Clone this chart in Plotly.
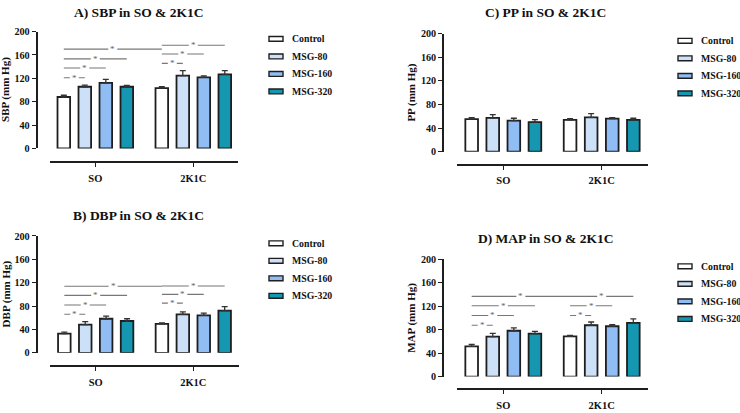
import plotly.graph_objects as go

# ---------------- data ----------------
groups = ["Control", "MSG-80", "MSG-160", "MSG-320"]
categories = ["SO", "2K1C"]
y_ticks = [0, 40, 80, 120, 160, 200]

# rows = groups, columns = categories (SO, 2K1C)
sbp_mean = [[88, 103], [105.5, 124.4], [112, 121.6], [105.5, 126.6]]
sbp_err = [[3, 2.5], [2.8, 8.6], [6, 2.6], [2.5, 6.4]]

dbp_mean = [[32.8, 49.4], [48.3, 65.6], [58.3, 63.9], [54.4, 72.2]]
dbp_err = [[2.7, 1.6], [5, 4.4], [4.5, 3.9], [3.9, 6.7]]

pp_mean = [[55, 53.8], [57.1, 58.2], [52.7, 56], [50, 53.8]]
pp_err = [[2.7, 2.2], [5.5, 6.1], [3.9, 1.7], [4.4, 2.8]]

map_mean = [[51.4, 68.5], [68, 87.3], [77.9, 85.6], [72.9, 91.2]]
map_err = [[3.3, 1.7], [5.5, 5.5], [5, 2.8], [3.9, 7.1]]

# significance brackets: (group_a, cat_a, group_b, cat_b, height)
sbp_sig = [(0, 0, 1, 0, 121), (0, 0, 2, 0, 137.7), (0, 0, 3, 0, 153.3), (0, 0, 0, 1, 170),
           (0, 1, 1, 1, 145.5), (0, 1, 2, 1, 161.7), (0, 1, 3, 1, 176.7)]
dbp_sig = [(0, 0, 1, 0, 66), (0, 0, 2, 0, 81.7), (0, 0, 3, 0, 98.3), (0, 0, 0, 1, 113.9),
           (0, 1, 1, 1, 85), (0, 1, 2, 1, 100), (0, 1, 3, 1, 114.4)]
pp_sig = []
map_sig = [(0, 0, 1, 0, 87.3), (0, 0, 2, 0, 103.9), (0, 0, 3, 0, 120.4), (0, 0, 0, 1, 136.5),
           (0, 1, 1, 1, 103.9), (0, 1, 2, 1, 120.4), (0, 1, 3, 1, 136.5)]

titles = ["A) SBP in SO & 2K1C", "B) DBP in SO & 2K1C", "C) PP in SO & 2K1C", "D) MAP in SO & 2K1C"]
ytitles = ["SBP (mm Hg)", "DBP (mm Hg)", "PP (mm Hg)", "MAP (mm Hg)"]

# ---------------- styles / layout geometry (pixels) ----------------
W, H = 740, 413
colors = ["#ffffff", "#cce0f8", "#8fbdf4", "#1597b2"]
FONT = "Liberation Serif"
INK = "#1e1e1e"
SIG = "#777777"
BARGAP = 0.143
BARGROUPGAP = 0.4

geom = [
    dict(yx=36.5, ytop=27.3, ybot=147.3, xay=161.3, xl=50, xr=238.3, t1=95.3, t2=193.3,
         tx=138, ty=8, ytx=6, lx=269),
    dict(yx=36.5, ytop=237.3, ybot=357.3, xay=371.3, xl=50, xr=239, t1=95.7, t2=193.3,
         tx=138, ty=216, ytx=6, lx=269),
    dict(yx=443, ytop=29.3, ybot=150.7, xay=164, xl=457.3, xr=647.7, t1=503.3, t2=601.7,
         tx=545, ty=7.5, ytx=412, lx=678),
    dict(yx=443, ytop=261, ybot=381.7, xay=395, xl=457.3, xr=647.7, t1=503.3, t2=601.7,
         tx=545.8, ty=240, ytx=412, lx=678),
]

panel_data = [
    (sbp_mean, sbp_err, sbp_sig),
    (dbp_mean, dbp_err, dbp_sig),
    (pp_mean, pp_err, pp_sig),
    (map_mean, map_err, map_sig),
]


def px(x):
    return x / W


def py(y):
    return 1 - y / H


fig = go.Figure()
shapes = []
annotations = []
layout_axes = {}

slot = (1 - BARGAP) / len(groups)

for i, (g, (means, errs, sigs)) in enumerate(zip(geom, panel_data)):
    n = "" if i == 0 else str(i + 1)
    xa, ya = "x" + n, "y" + n
    unit = g["t2"] - g["t1"]
    xrange = [(g["xl"] - g["t1"]) / unit, (g["xr"] - g["t1"]) / unit]

    for gi, grp in enumerate(groups):
        fig.add_trace(go.Bar(
            x=categories, y=means[gi], name=grp,
            marker=dict(color=colors[gi], line=dict(color=INK, width=1.8)),
            error_y=dict(type="data", array=errs[gi], arrayminus=[0] * len(categories),
                         symmetric=False, color="#333333", thickness=1.3, width=3),
            xaxis=xa, yaxis=ya, showlegend=False,
        ))

    layout_axes["xaxis" + n] = dict(
        domain=[px(g["xl"]), px(g["xr"])], anchor="free", position=py(g["xay"]),
        range=xrange, showline=True, linewidth=1.8, linecolor=INK,
        ticks="outside", ticklen=4, tickwidth=1.4, tickcolor=INK,
        showgrid=False, zeroline=False, fixedrange=True,
        tickfont=dict(family=FONT, size=10.5, color="#111111", weight="bold"),
        ticklabelstandoff=2,
    )
    layout_axes["yaxis" + n] = dict(
        domain=[py(g["ybot"]), py(g["ytop"])], anchor="free", position=px(g["yx"]),
        range=[0, 200], tickmode="array", tickvals=y_ticks,
        showline=True, linewidth=1.6, linecolor=INK,
        ticks="outside", ticklen=4, tickwidth=1.4, tickcolor=INK,
        showgrid=False, zeroline=False, fixedrange=True,
        tickfont=dict(family=FONT, size=10.2, color="#111111", weight="bold"),
    )

    # significance brackets
    gap = 4.5 / unit
    for (ga, ca, gb, cb, h) in sigs:
        xa0 = ca + (ga - (len(groups) - 1) / 2) * slot
        xb0 = cb + (gb - (len(groups) - 1) / 2) * slot
        mid = (xa0 + xb0) / 2
        for (s0, s1) in ((xa0, mid - gap), (mid + gap, xb0)):
            shapes.append(dict(type="line", xref=xa, yref=ya, x0=s0, x1=s1, y0=h, y1=h,
                               line=dict(color=SIG, width=1.1)))
        annotations.append(dict(xref=xa, yref=ya, x=mid, y=h, text="*", showarrow=False,
                                xanchor="center", yanchor="middle", yshift=0,
                                font=dict(family=FONT, size=9, color="#666666")))

    # panel title
    annotations.append(dict(xref="paper", yref="paper", x=px(g["tx"]), y=py(g["ty"]),
                            text=titles[i], showarrow=False, xanchor="center", yanchor="middle",
                            font=dict(family=FONT, size=13.5, color="#111111", weight="bold")))
    # y-axis title
    annotations.append(dict(xref="paper", yref="paper", x=px(g["ytx"]),
                            y=py((g["ytop"] + g["ybot"]) / 2), text=ytitles[i], textangle=-90,
                            showarrow=False, xanchor="center", yanchor="middle",
                            font=dict(family=FONT, size=11, color="#111111", weight="bold")))

    # legend
    for gi, grp in enumerate(groups):
        yc = g["ytop"] + 7.5 + 18 * gi
        shapes.append(dict(type="rect", xref="paper", yref="paper",
                           x0=px(g["lx"]), x1=px(g["lx"] + 14), y0=py(yc + 2.5), y1=py(yc - 2.5),
                           fillcolor=colors[gi], line=dict(color=INK, width=1.4)))
        annotations.append(dict(xref="paper", yref="paper", x=px(g["lx"] + 21), y=py(yc),
                                text=grp, showarrow=False, xanchor="left", yanchor="middle",
                                font=dict(family=FONT, size=9.8, color="#111111", weight="bold")))

fig.update_layout(
    width=W, height=H, margin=dict(l=0, r=0, t=0, b=0),
    paper_bgcolor="white", plot_bgcolor="white",
    barmode="group", bargap=BARGAP, bargroupgap=BARGROUPGAP,
    showlegend=False, shapes=shapes, annotations=annotations,
    **layout_axes,
)

fig.write_html(
    "out.html",
    config={"displayModeBar": False},
    post_script="document.body.style.margin='0';document.body.style.padding='0';"
                "document.documentElement.style.overflow='hidden';",
)
